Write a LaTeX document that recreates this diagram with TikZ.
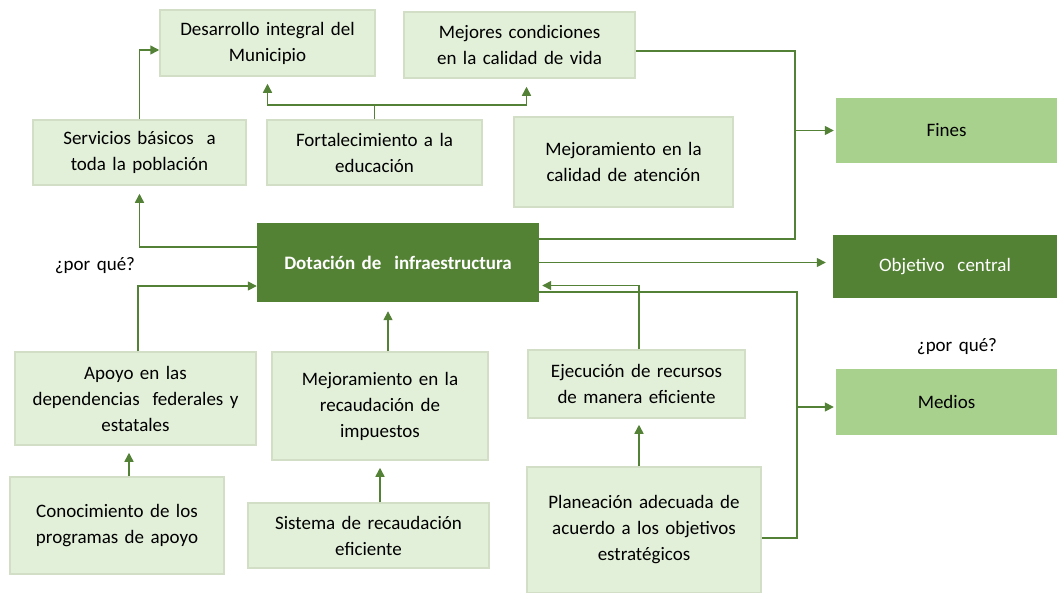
\documentclass[tikz,border=0pt]{standalone}
\usepackage{fontspec}
\setmainfont{Carlito}[WordSpace=1.5]
\usetikzlibrary{arrows.meta,positioning,calc}
\definecolor{lightbox}{HTML}{E2EFD9}
\definecolor{lightedge}{HTML}{D2DFC6}
\definecolor{darkgreen}{HTML}{548235}
\definecolor{midgreen}{HTML}{A9D18E}
\definecolor{linegreen}{HTML}{538135}
\tikzset{
  lbox/.style={rectangle, fill=lightbox, draw=lightedge, line width=1.5pt, align=center, inner sep=2pt,
     font=\fontsize{19}{26}\selectfont, text=black},
  dbox/.style={rectangle, fill=darkgreen, draw=none, align=center, font=\fontsize{19}{26}\selectfont, text=white},
  mbox/.style={rectangle, fill=midgreen, draw=none, align=center, font=\fontsize{19}{26}\selectfont, text=black},
  plain/.style={draw=linegreen, line width=1.5pt},
  arr/.style={draw=linegreen, line width=1.5pt, -{Triangle[length=9pt,width=9pt]}},
  lbl/.style={font=\fontsize{19}{26}\selectfont, text=black}
}
\begin{document}
\begin{tikzpicture}[x=1pt,y=-1pt]
\useasboundingbox (0,0) rectangle (1057,592);
% boxes
\node[lbox, minimum width=215pt, minimum height=66pt] (des) at (267.5,43) {Desarrollo integral del\\Municipio};
\node[lbox, minimum width=231pt, minimum height=66pt] (mej) at (519.5,45) {Mejores condiciones\\en la calidad de vida};
\node[lbox, minimum width=213pt, minimum height=65pt] (ser) at (139.5,152.5) {Servicios básicos \ a\\toda la población};
\node[lbox, minimum width=215pt, minimum height=65pt] (fort) at (374.5,152.5) {Fortalecimiento a la\\educación};
\node[lbox, minimum width=219pt, minimum height=90pt] (aten) at (623.5,162) {Mejoramiento en la\\calidad de atención};
\node[dbox, minimum width=282pt, minimum height=79pt, font=\fontsize{19}{26}\selectfont\bfseries] (dot) at (398,262.5) {Dotación de \ infraestructura};
\node[mbox, minimum width=221pt, minimum height=65pt] (fines) at (946.5,130.5) {Fines};
\node[dbox, minimum width=224pt, minimum height=63pt] (obj) at (945,266.5) {Objetivo \ central};
\node[mbox, minimum width=221pt, minimum height=66pt] (medios) at (946.5,402) {Medios};
\node[lbox, minimum width=241pt, minimum height=93pt] (apoyo) at (135.5,398.5) {Apoyo en las\\dependencias \ federales y\\estatales};
\node[lbox, minimum width=216pt, minimum height=108pt] (recaud) at (380,406) {Mejoramiento en la\\recaudación de\\impuestos};
\node[lbox, minimum width=217pt, minimum height=68pt] (ejec) at (636.5,384) {Ejecución de recursos\\de manera eficiente};
\node[lbox, minimum width=214pt, minimum height=97pt] (conoc) at (117,525.5) {Conocimiento de los\\programas de apoyo};
\node[lbox, minimum width=241pt, minimum height=65pt] (sist) at (368.5,535.5) {Sistema de recaudación\\eficiente};
\node[lbox, minimum width=234pt, minimum height=126pt] (plan) at (644,530) {Planeación adecuada de\\acuerdo a los objetivos\\estratégicos};
% labels
\node[lbl] (q1) at (95,266) {¿por qué?};
\node[lbl] (q2) at (957,347) {¿por qué?};
% connectors
\draw[arr] (ser.north) |- ([yshift=-7pt]des.west);
\coordinate (fj) at (374.5,105);
\draw[plain] (fort.north) -- (fj);
\draw[arr, shorten >=7pt] (fj) -| (des.south);
\draw[arr, shorten >=8pt] (fj) -| ([xshift=7pt]mej.south);
\draw[arr, shorten >=8pt] ([yshift=15.5pt]dot.west) -| (ser.south);
\coordinate (fv) at (795,130.5);
\draw[plain] ([yshift=-6pt]mej.east) -| (fv) |- ([yshift=23.5pt]dot.east);
\draw[arr, shorten >=2pt] (fv) -- (fines.west);
\draw[arr, shorten >=7pt] (dot.east) -- (dot.east -| obj.west);
\draw[arr, shorten >=3pt] ([xshift=2.5pt]ejec.north) |- ([yshift=-23pt]dot.east);
\coordinate (mv) at (797,407);
\draw[plain] ([yshift=-8pt]plan.east) -| (mv) |- ([yshift=-29.5pt]dot.east);
\draw[arr, shorten >=2pt] (mv) -- ([yshift=-5pt]medios.west);
\draw[arr] ([xshift=2.5pt]apoyo.north) |- ([yshift=-23.5pt]dot.west);
\coordinate (r1) at ([xshift=8pt]recaud.north);
\draw[arr, shorten >=9pt] (r1) -- (r1 |- dot.south);
\coordinate (c1) at ([xshift=12pt]conoc.north);
\draw[arr, shorten >=7pt] (c1) -- (c1 |- apoyo.south);
\coordinate (s1) at ([xshift=11.5pt]sist.north);
\draw[arr, shorten >=7pt] (s1) -- (s1 |- recaud.south);
\coordinate (p1) at ([xshift=-5pt]plan.north);
\draw[arr, shorten >=6pt] (p1) -- (p1 |- ejec.south);
\end{tikzpicture}
\end{document}
